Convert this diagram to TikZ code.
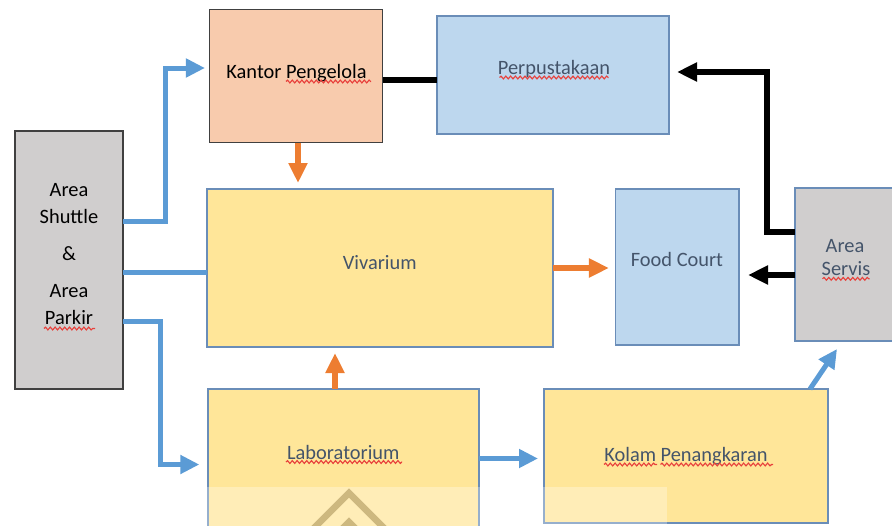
\documentclass[tikz,border=0pt]{standalone}
\usepackage{fontspec}
\setmainfont{Carlito}
\usetikzlibrary{arrows.meta,decorations.pathmorphing}

\definecolor{fillgray}{HTML}{D0CECE}
\definecolor{fillorange}{HTML}{F8CBAD}
\definecolor{fillblue}{HTML}{BDD7EE}
\definecolor{fillyellow}{HTML}{FFE699}
\definecolor{edgedark}{HTML}{404040}
\definecolor{edgeblue}{HTML}{6A8DB8}
\definecolor{linkblue}{HTML}{5B9BD5}
\definecolor{linkorange}{HTML}{ED7D31}
\definecolor{txtslate}{HTML}{44546A}
\definecolor{waverred}{HTML}{E8413C}
\definecolor{markbrown}{HTML}{CDB87F}

\begin{document}
\begin{tikzpicture}[x=0.75pt,y=-0.75pt,
  box/.style={line width=1.1pt, inner sep=0pt, outer sep=0pt},
  darkbox/.style={box, draw=edgedark},
  bluebox/.style={box, draw=edgeblue},
  lbl/.style={anchor=base, inner sep=0pt, font=\fontsize{15.3}{18}\selectfont, text=txtslate},
  link/.style={line join=miter},
  bluelink/.style={link, draw=linkblue, line width=3.75pt, -{Triangle[length=14.25pt,width=13.5pt]}},
  blueline/.style={link, draw=linkblue, line width=3.75pt},
  orangelink/.style={link, draw=linkorange, line width=4.2pt, -{Triangle[length=15pt,width=13.5pt]}},
  blacklink/.style={link, draw=black, line width=4.5pt, -{Triangle[length=15pt,width=13.5pt]}},
  blackline/.style={link, draw=black, line width=4.5pt},
  wavy/.style={draw=waverred, line width=0.85pt,
    decorate, decoration={snake, segment length=3.6pt, amplitude=1.05pt}}
]
\useasboundingbox (0,0) rectangle (892,525);
\clip (0,0) rectangle (892,525);

% rooms
\node[darkbox, fill=fillgray,   minimum width=81pt,     minimum height=193.5pt] (shuttle)  at (69,260) {};
\node[darkbox, fill=fillorange, minimum width=129.75pt, minimum height=99.75pt] (kantor)   at (296,76) {};
\node[bluebox, fill=fillblue,   minimum width=174pt,    minimum height=88.5pt]  (perpus)   at (553,75) {};
\node[bluebox, fill=fillyellow, minimum width=259.5pt,  minimum height=118.5pt] (vivarium) at (380,268) {};
\node[bluebox, fill=fillblue,   minimum width=92.625pt, minimum height=117pt]   (food)     at (677.25,267) {};
\node[bluebox, fill=fillgray,   minimum width=82.5pt,   minimum height=114.75pt](servis)   at (850,264.5) {};
\node[bluebox, fill=fillyellow, minimum width=203.25pt, minimum height=113.25pt](lab)      at (343.5,464.5) {};
\node[bluebox, fill=fillyellow, minimum width=213pt,    minimum height=100.5pt] (kolam)    at (686,456) {};

% labels
\node[lbl, text=black] (tArea1)   at (69,196) {Area};
\node[lbl, text=black] (tShuttle) at (69,223) {Shuttle};
\node[lbl, text=black] (tAmp)     at (69,260) {\&};
\node[lbl, text=black] (tArea2)   at (69,297) {Area};
\node[lbl, text=black] (tParkir)  at (69,324) {Parkir};
\node[lbl, text=black] (tKantor)  at (296.5,78) {Kantor Pengelola};
\node[lbl] (tPerpus)   at (554,74.5) {Perpustakaan};
\node[lbl] (tVivarium) at (379.7,269.3) {Vivarium};
\node[lbl] (tFood)     at (677,266.5) {Food Court};
\node[lbl] (tArea3)    at (845,252.5) {Area};
\node[lbl] (tServis)   at (846,275.5) {Servis};
\node[lbl] (tLab)      at (343.3,459) {Laboratorium};
\node[lbl] (tKolam)    at (686,461.5) {Kolam Penangkaran};

% spell-check underlines
\draw[wavy] (44,328.5) -- (95,328.5);
\draw[wavy] (286,81.5) -- (371,81.5);
\draw[wavy] (499.5,77.5) -- (608.5,77.5);
\draw[wavy] (822.5,278.8) -- (869.5,278.8);
\draw[wavy] (286,462) -- (402,462);
\draw[wavy] (604,464.5) -- (657,464.5);
\draw[wavy] (660.5,464.5) -- (773,464.5);

% access from the shuttle and parking area
\coordinate (s1) at ([yshift=29.25pt]shuttle.east);
\coordinate (k1) at ([yshift=6pt]kantor.west);
\draw[bluelink, shorten >=3.4pt] (s1) -| ([xshift=-33.375pt]k1) -- (k1);

\coordinate (s2) at ([yshift=-9pt]shuttle.east);
\draw[blueline] (s2) -- (s2 -| vivarium.west);

\coordinate (s3) at ([yshift=-45.75pt]shuttle.east);
\draw[bluelink, shorten >=6.5pt] (s3) -| ([xshift=-35.6pt]lab.west) -- (lab.west);

% orange flows into the vivarium
\coordinate (o1) at ([xshift=1.5pt]kantor.south);
\draw[orangelink, shorten >=4.5pt] (o1) -- (o1 |- vivarium.north);
\coordinate (o2) at ([xshift=-6.375pt]lab.north);
\draw[orangelink, shorten >=4.5pt] (o2) -- (o2 |- vivarium.south);
\draw[orangelink, shorten >=4.9pt] (vivarium.east) -- (vivarium.east -| food.west);

% service links
\coordinate (k2) at ([yshift=-3pt]kantor.east);
\draw[blackline] (k2) -- (k2 -| perpus.west);
\coordinate (v1) at ([yshift=24.375pt]servis.west);
\coordinate (p1) at ([yshift=2.25pt]perpus.east);
\draw[blacklink, shorten >=6pt] (v1) -| ([xshift=73.5pt]p1) -- (p1);
\coordinate (v2) at ([yshift=-7.875pt]servis.west);
\draw[blacklink, shorten >=6.75pt] (v2) -- (v2 -| food.east);

% laboratory and breeding pond
\coordinate (l1) at ([yshift=4.5pt]lab.east);
\draw[bluelink, shorten >=4.5pt] (l1) -- (l1 -| kolam.west);
\draw[bluelink] ([xshift=93pt]kolam.north) -- ([xshift=-9.75pt,yshift=-6pt]servis.south);

% faint mark along the bottom edge
\fill[white, opacity=0.3] (200,487) rectangle (667,530);
\draw[markbrown, line width=5pt, line join=miter] (302,540) -- (349,493) -- (396,540);
\draw[markbrown, line width=5pt, line join=miter] (326,545) -- (349,522) -- (372,545);
\end{tikzpicture}
\end{document}
